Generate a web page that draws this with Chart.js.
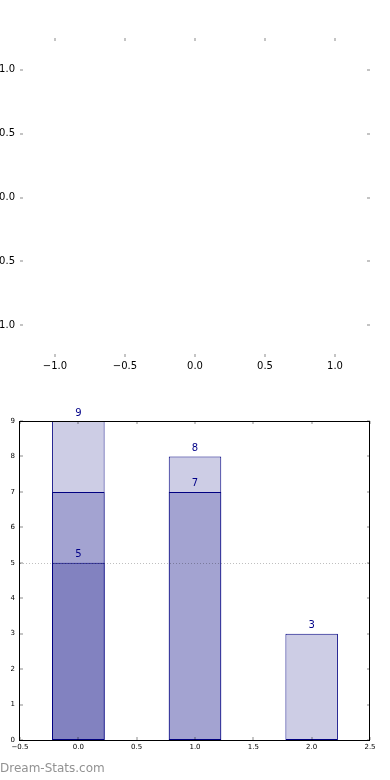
<!DOCTYPE html>
<html>
<head>
<meta charset="utf-8">
<script src="https://cdn.jsdelivr.net/npm/chart.js@4/dist/chart.umd.min.js"></script>
<style>
  body { margin: 0; background: #fff; width: 390px; height: 780px; overflow: hidden; position: relative; }
  .box { position: absolute; left: 0; width: 390px; height: 390px; }
  #top-box { top: 0; }
  #bottom-box { top: 390px; }
  .watermark {
    position: absolute; left: 0; top: 761px; line-height: 14px;
    font: 12px "DejaVu Sans", sans-serif; color: #929292;
  }
</style>
</head>
<body>
<div class="box" id="top-box"><canvas id="empty-chart"></canvas></div>
<div class="box" id="bottom-box"><canvas id="bar-chart"></canvas></div>
<div class="watermark">Dream-Stats.com</div>

<script>
// empty axes on top
const emptyTicks = [-1.0, -0.5, 0.0, 0.5, 1.0];
const emptyRange = [-1.25, 1.25];

// bar chart below
const barPositions = [0, 1, 2];
const darkValues = [5, null, null];
const midValues = [7, 7, null];
const lightValues = [9, 8, 3];
const barTicksX = [-0.5, 0.0, 0.5, 1.0, 1.5, 2.0, 2.5];
const barTicksY = [0, 1, 2, 3, 4, 5, 6, 7, 8, 9];
const refLine = 5;
const labelPositions = [0, 0, 1, 1, 2];
const labelValues = [9, 5, 8, 7, 3];

function fmt(v) {
  return (v < 0 ? '\u2212' : '') + Math.abs(v).toFixed(1);
}

function setTicks(values) {
  return scale => { scale.ticks = values.map(v => ({value: v})); };
}

// matplotlib style inward tick marks on all four sides
function drawInnerTicks(chart, len, color, width) {
  const {ctx, chartArea: a, scales} = chart;
  ctx.save();
  ctx.strokeStyle = color;
  ctx.lineWidth = width;
  ctx.beginPath();
  scales.x.ticks.forEach(t => {
    const px = Math.round(scales.x.getPixelForValue(t.value));
    ctx.moveTo(px, a.top); ctx.lineTo(px, a.top + len);
    ctx.moveTo(px, a.bottom); ctx.lineTo(px, a.bottom - len);
  });
  scales.y.ticks.forEach(t => {
    const py = Math.round(scales.y.getPixelForValue(t.value));
    ctx.moveTo(a.left, py); ctx.lineTo(a.left + len, py);
    ctx.moveTo(a.right, py); ctx.lineTo(a.right - len, py);
  });
  ctx.stroke();
  ctx.restore();
}

const noGrid = { display: false, drawTicks: false, tickLength: 0 };

function loadEmptyChart() {
  const canvas = document.getElementById('empty-chart');
  new Chart(canvas.getContext('2d'), {
    type: 'scatter',
    data: { datasets: [{ data: [] }] },
    options: {
      responsive: true, maintainAspectRatio: false, animation: false, devicePixelRatio: 1,
      layout: { padding: { left: 0, top: 38, right: 20, bottom: 0 } },
      scales: {
        x: {
          min: emptyRange[0], max: emptyRange[1],
          afterBuildTicks: setTicks(emptyTicks),
          afterFit: scale => { scale.height = 33; },
          grid: noGrid, border: { display: false },
          ticks: { padding: 3, color: '#000', font: { family: 'DejaVu Sans', size: 10 }, callback: fmt, maxRotation: 0 }
        },
        y: {
          min: emptyRange[0], max: emptyRange[1],
          afterBuildTicks: setTicks(emptyTicks),
          afterFit: scale => { scale.width = 20; },
          grid: noGrid, border: { display: false },
          ticks: { padding: 5, color: '#000', font: { family: 'DejaVu Sans', size: 10 }, callback: fmt }
        }
      },
      plugins: { legend: { display: false }, tooltip: { enabled: false } }
    },
    plugins: [{
      id: 'innerTicks',
      afterDraw: chart => drawInnerTicks(chart, 3, '#c4c4c4', 2)
    }]
  });
}

function barData(values) {
  return barPositions.map((x, i) => ({ x: x, y: values[i] }));
}

function loadBarChart() {
  const canvas = document.getElementById('bar-chart');
  const common = { borderColor: '#000080', borderWidth: 1, borderSkipped: false, grouped: false,
    barPercentage: 0.9, categoryPercentage: 1 };
  new Chart(canvas.getContext('2d'), {
    type: 'bar',
    data: {
      datasets: [
        Object.assign({ data: barData(darkValues), backgroundColor: '#8282c0' }, common),
        Object.assign({ data: barData(midValues), backgroundColor: '#a3a3d1' }, common),
        Object.assign({ data: barData(lightValues), backgroundColor: '#cdcde5' }, common)
      ]
    },
    options: {
      responsive: true, maintainAspectRatio: false, animation: false, devicePixelRatio: 1,
      layout: { padding: { left: 0, top: 31, right: 20, bottom: 0 } },
      scales: {
        x: {
          type: 'linear', min: -0.5, max: 2.5, offset: false,
          afterBuildTicks: setTicks(barTicksX),
          afterFit: scale => { scale.height = 40; },
          grid: noGrid, border: { display: false },
          ticks: { padding: 3, color: '#000', font: { family: 'DejaVu Sans', size: 7 }, callback: fmt, maxRotation: 0 }
        },
        y: {
          min: 0, max: 9,
          afterBuildTicks: setTicks(barTicksY),
          afterFit: scale => { scale.width = 20; },
          grid: noGrid, border: { display: false },
          ticks: { padding: 5, color: '#000', font: { family: 'DejaVu Sans', size: 7 } }
        }
      },
      plugins: { legend: { display: false }, tooltip: { enabled: false } }
    },
    plugins: [{
      id: 'decor',
      afterDatasetsDraw: chart => {
        const {ctx, chartArea: a, scales} = chart;
        // dotted reference line
        const py = Math.round(scales.y.getPixelForValue(refLine)) + 0.5;
        ctx.save();
        ctx.strokeStyle = 'rgba(0,0,0,0.25)';
        ctx.lineWidth = 1;
        ctx.setLineDash([1, 2]);
        ctx.beginPath();
        ctx.moveTo(a.left, py); ctx.lineTo(a.right, py);
        ctx.stroke();
        ctx.restore();

        // value labels
        ctx.save();
        ctx.fillStyle = '#000088';
        ctx.font = '10px "DejaVu Sans"';
        ctx.textAlign = 'center';
        ctx.textBaseline = 'bottom';
        labelPositions.forEach((x, i) => {
          ctx.fillText(String(labelValues[i]), scales.x.getPixelForValue(x), scales.y.getPixelForValue(labelValues[i]) - 3);
        });
        ctx.restore();

        drawInnerTicks(chart, 3, 'rgba(0,0,0,0.3)', 1.5);

        // frame
        ctx.save();
        ctx.strokeStyle = '#000';
        ctx.lineWidth = 1;
        ctx.strokeRect(Math.round(a.left) - 0.5, Math.round(a.top) + 0.5,
          Math.round(a.right - a.left), Math.round(a.bottom - a.top));
        ctx.restore();
      }
    }]
  });
}

document.addEventListener('DOMContentLoaded', function () {
  loadEmptyChart();
  loadBarChart();
});
</script>
</body>
</html>
